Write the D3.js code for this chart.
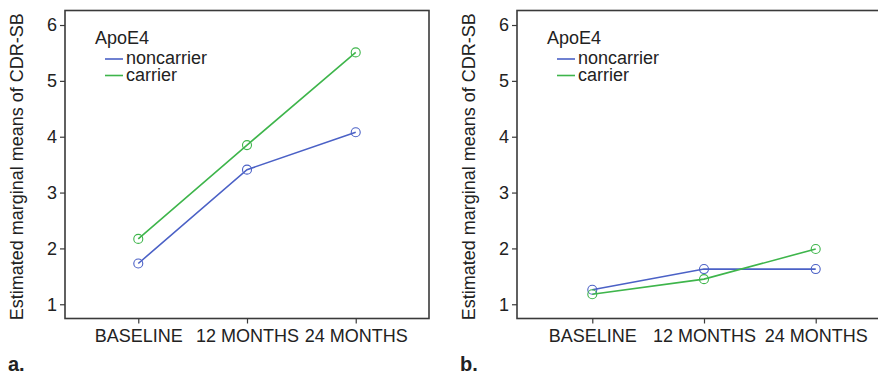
<!DOCTYPE html>
<html>
<head>
<meta charset="utf-8">
<script src="https://cdn.jsdelivr.net/npm/d3@7"></script>
<style>
  body { margin: 0; background: #fff; }
  svg text { font-family: "Liberation Sans", Arial, sans-serif; fill: #222; }
</style>
</head>
<body>
<svg id="chart" width="878" height="375"></svg>
<script>
// data
var timepoints = ["BASELINE", "12 MONTHS", "24 MONTHS"];
var yTicks = [1, 2, 3, 4, 5, 6];
var groups = ["noncarrier", "carrier"];
var colors = ["#4b61c6", "#3eb54b"];

var panelA_noncarrier = [1.73, 3.41, 4.08];
var panelA_carrier = [2.17, 3.85, 5.51];
var panelB_noncarrier = [1.26, 1.63, 1.63];
var panelB_carrier = [1.18, 1.45, 1.99];

var panels = [
  { tag: "a.", left: 65, width: 364, series: [panelA_noncarrier, panelA_carrier] },
  { tag: "b.", left: 517, width: 374, series: [panelB_noncarrier, panelB_carrier] }
];

var svg = d3.select("#chart");
var frameTop = 10.5, frameBottom = 318.5;

panels.forEach(function (p) {
  var g = svg.append("g");

  var x = d3.scalePoint()
      .domain(timepoints)
      .range([p.left, p.left + p.width])
      .padding(0.674);

  var y = d3.scaleLinear()
      .domain([0.745, 6.26])
      .range([frameBottom, frameTop]);

  // frame
  g.append("rect")
      .attr("x", p.left)
      .attr("y", frameTop)
      .attr("width", p.width)
      .attr("height", frameBottom - frameTop)
      .attr("fill", "none")
      .attr("stroke", "#3a3a3a")
      .attr("stroke-width", 1.6);

  // y axis
  var ya = g.append("g")
      .attr("transform", "translate(" + p.left + ",0)")
      .call(d3.axisLeft(y).tickValues(yTicks).tickSize(5).tickPadding(3).tickFormat(d3.format("d")));
  ya.select(".domain").remove();
  ya.selectAll(".tick line").attr("stroke", "#3a3a3a").attr("stroke-width", 1.2);
  ya.selectAll(".tick text").style("font-size", "18px").attr("fill", "#222");

  // x axis
  var xa = g.append("g")
      .attr("transform", "translate(0," + frameBottom + ")")
      .call(d3.axisBottom(x).tickSize(5).tickPadding(6));
  xa.select(".domain").remove();
  xa.selectAll(".tick line").attr("stroke", "#3a3a3a").attr("stroke-width", 1.2);
  xa.selectAll(".tick text").style("font-size", "18px").attr("fill", "#222");

  // y label
  g.append("text")
      .attr("transform", "translate(" + (p.left - 42) + "," + ((frameTop + 323) / 2) + ") rotate(-90)")
      .attr("text-anchor", "middle")
      .style("font-size", "18px")
      .text("Estimated marginal means of CDR-SB");

  // lines and points
  var line = d3.line()
      .x(function (d, i) { return x(timepoints[i]); })
      .y(function (d) { return y(d); });

  p.series.forEach(function (vals, si) {
    g.append("path")
        .datum(vals)
        .attr("d", line)
        .attr("fill", "none")
        .attr("stroke", colors[si])
        .attr("stroke-width", 1.6);
    g.selectAll(".pt" + si)
        .data(vals)
        .enter()
        .append("circle")
        .attr("class", "pt" + si)
        .attr("cx", function (d, i) { return x(timepoints[i]); })
        .attr("cy", function (d) { return y(d); })
        .attr("r", 4.5)
        .attr("fill", "none")
        .attr("stroke", colors[si])
        .attr("stroke-width", 1.1);
  });

  // legend
  var lg = g.append("g").attr("transform", "translate(" + (p.left + 30) + ",0)");
  lg.append("text")
      .attr("x", 0)
      .attr("y", 44)
      .style("font-size", "18px")
      .text("ApoE4");
  groups.forEach(function (name, i) {
    var yy = 59 + i * 16.5;
    lg.append("line")
        .attr("x1", 10).attr("x2", 28)
        .attr("y1", yy).attr("y2", yy)
        .attr("stroke", colors[i])
        .attr("stroke-width", 1.6);
    lg.append("text")
        .attr("x", 31)
        .attr("y", yy + 5)
        .style("font-size", "18px")
        .text(name);
  });

  // panel tag
  svg.append("text")
      .attr("x", p.left - 57)
      .attr("y", 371)
      .style("font-size", "20px")
      .style("font-family", "'Liberation Sans Narrow', 'Liberation Sans', sans-serif")
      .style("font-weight", "bold")
      .text(p.tag);
});
</script>
</body>
</html>
